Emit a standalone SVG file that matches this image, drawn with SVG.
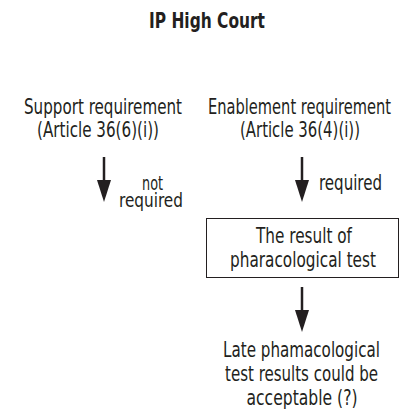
<svg xmlns="http://www.w3.org/2000/svg" width="406" height="414" viewBox="0 0 406 414">
<defs>
<style>
text{font-family:"DejaVu Sans Condensed","DejaVu Sans",sans-serif;font-stretch:condensed;fill:#231f20;font-size:20.5px;text-anchor:middle}
.t{font-weight:bold;font-size:21px}
.s{font-size:19.5px}
.ln{stroke:#231f20;stroke-width:2.5;fill:none}
.hd{fill:#231f20}
</style>
</defs>
<rect width="406" height="414" fill="#fff"/>
<g id="title"><text class="t" x="207" y="28" textLength="116" lengthAdjust="spacingAndGlyphs">IP High Court</text></g>
<g id="support"><text x="103" y="114" textLength="158" lengthAdjust="spacingAndGlyphs">Support requirement</text><text x="98" y="137" textLength="122" lengthAdjust="spacingAndGlyphs">(Article 36(6)(i))</text></g>
<g id="enablement"><text x="299.5" y="114" textLength="183" lengthAdjust="spacingAndGlyphs">Enablement requirement</text><text x="300" y="137" textLength="120" lengthAdjust="spacingAndGlyphs">(Article 36(4)(i))</text></g>
<g id="result"><rect x="206.5" y="218.5" width="192" height="59" fill="none" stroke="#231f20" stroke-width="1"/><text x="304" y="243" textLength="96" lengthAdjust="spacingAndGlyphs">The result of</text><text x="303" y="267" textLength="146" lengthAdjust="spacingAndGlyphs">pharacological test</text></g>
<g id="late"><text x="301.5" y="357" textLength="157" lengthAdjust="spacingAndGlyphs">Late phamacological</text><text x="301.5" y="381" textLength="153" lengthAdjust="spacingAndGlyphs">test results could be</text><text x="302" y="405" textLength="111" lengthAdjust="spacingAndGlyphs">acceptable (?)</text></g>
<g id="connectors">
<line class="ln" x1="104" y1="157" x2="104" y2="185"/><path class="hd" d="M97,180 L111,180 L104,202 Z"/>
<text class="s" x="152.5" y="190" textLength="21" lengthAdjust="spacingAndGlyphs">not</text><text class="s" x="151" y="207" textLength="64" lengthAdjust="spacingAndGlyphs">required</text>
<line class="ln" x1="302" y1="157" x2="302" y2="185"/><path class="hd" d="M295,180 L309,180 L302,202 Z"/>
<text x="350.5" y="190" textLength="63" lengthAdjust="spacingAndGlyphs">required</text>
<line class="ln" x1="302" y1="287" x2="302" y2="315"/><path class="hd" d="M295,310 L309,310 L302,332 Z"/>
</g>
</svg>
